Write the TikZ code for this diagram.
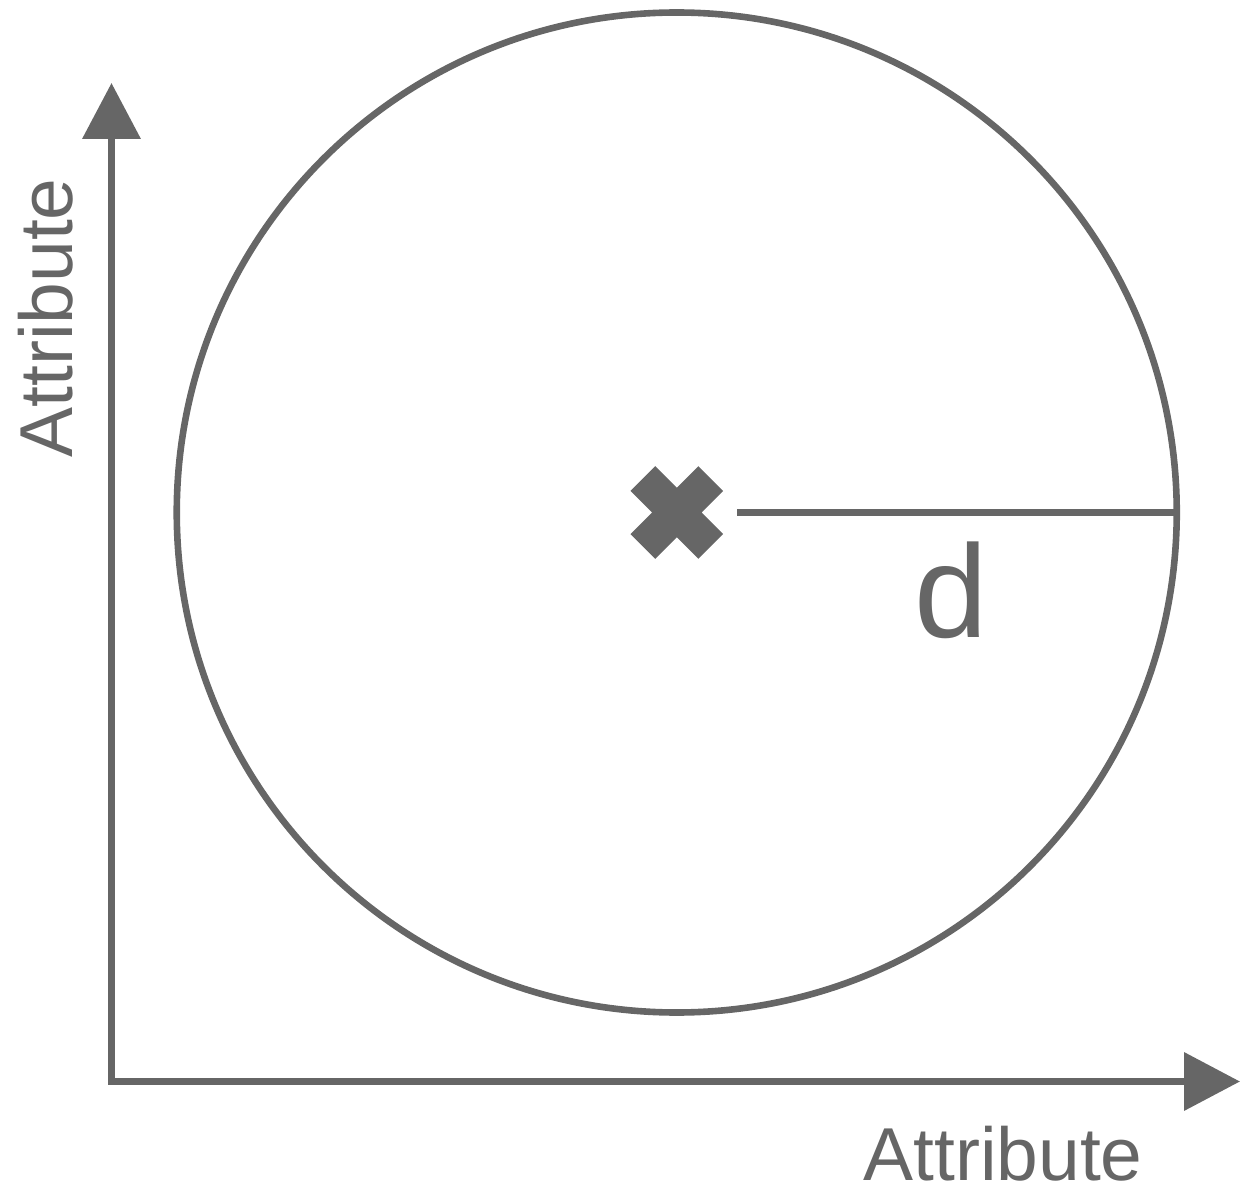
\documentclass[tikz,border=0pt]{standalone}
\usepackage{fontspec}
\setmainfont{Liberation Sans}
\usetikzlibrary{arrows.meta}
\definecolor{ink}{RGB}{102,102,102}
\tikzset{
  axisline/.style={draw=ink, line width=3.6pt, line join=miter,
    {Triangle[length=28pt,width=28.5pt]}-{Triangle[length=28pt,width=28.5pt]}},
  ring/.style={circle, draw=ink, line width=3.3pt, minimum size=500pt, inner sep=0pt, outer sep=0pt},
  radius line/.style={draw=ink, line width=3.8pt},
  crossmark/.style={fill=ink},
  label text/.style={text=ink, inner sep=0pt, text depth=0pt, font=\fontsize{37.5pt}{40pt}\selectfont},
  dlabel/.style={text=ink, inner sep=0pt, font=\fontsize{66pt}{70pt}\selectfont}
}
\begin{document}
\begin{tikzpicture}[x=0.5pt, y=-0.5pt]
\useasboundingbox (0,0) rectangle (1243,1187);
% axes
\coordinate (ytip) at (111.5,83);
\coordinate (origin) at (111.5,1081.5);
\coordinate (xtip) at (1240,1081.5);
\draw[axisline] (ytip) -- (origin) -- (xtip);
% circle
\coordinate (c) at (676.75,512.5);
\node[ring] (circ) at (c) {};
% cross
\begin{scope}[shift={(c)}, rotate=45]
\fill[crossmark] (17.5,17.5) -- (48,17.5) -- (48,-17.5) -- (17.5,-17.5) -- (17.5,-48) -- (-17.5,-48)
  -- (-17.5,-17.5) -- (-48,-17.5) -- (-48,17.5) -- (-17.5,17.5) -- (-17.5,48) -- (17.5,48) -- cycle;
\end{scope}
% radius
\coordinate (dstart) at (737,512.5);
\draw[radius line] (dstart) -- (circ.east);
% labels
\node[dlabel, anchor=base] (d) at (951,638) {d};
\node[label text, anchor=base] (xlab) at (1003,1180) {Attribute};
\node[label text, anchor=base, rotate=90] (ylab) at (72,318) {Attribute};
\end{tikzpicture}
\end{document}
